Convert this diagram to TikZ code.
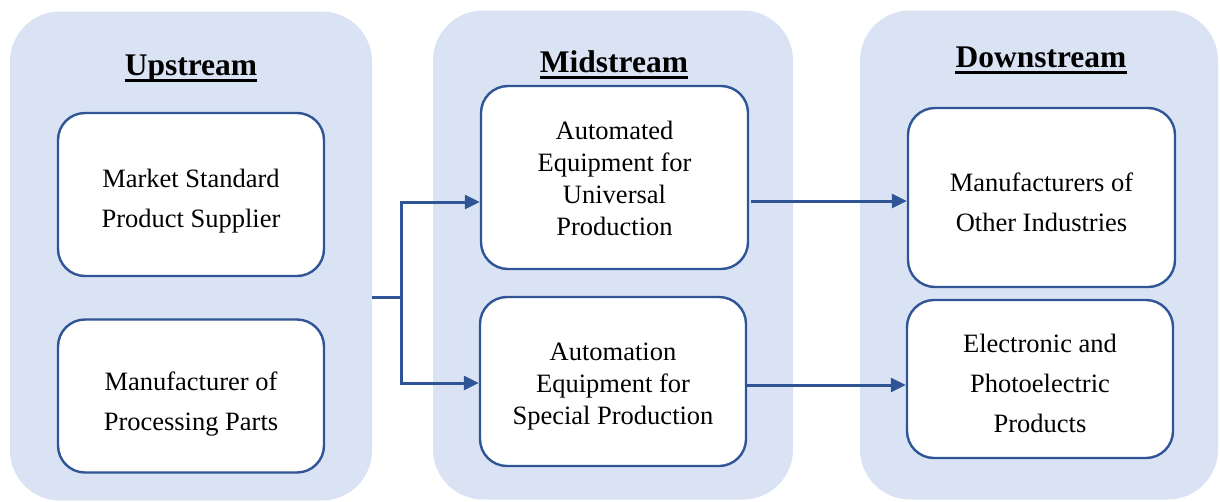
\documentclass[tikz,border=0pt]{standalone}
\usepackage{fontspec}
\setmainfont{Liberation Serif}
\usetikzlibrary{arrows.meta}
\definecolor{panelfill}{HTML}{DAE3F3}
\definecolor{edgeblue}{HTML}{2F5597}
\tikzset{
  panel/.style={fill=panelfill, draw=none, rounded corners=50pt},
  title/.style={font=\fontsize{31.5}{36}\selectfont\bfseries, inner sep=0pt, anchor=base},
  titlerule/.style={draw=black, line width=2.8pt},
  stagebox/.style={draw=edgeblue, line width=2.4pt, fill=white, rounded corners=27pt,
    inner sep=0pt},
  boxtext/.style={align=center, font=\fontsize{26.5}{40}\selectfont, inner sep=0pt},
  tight/.style={font=\fontsize{26.5}{32}\selectfont},
  link/.style={draw=edgeblue, line width=3pt},
  arr/.style={link, -{Triangle[length=15pt,width=14pt]}}
}
\begin{document}
\begin{tikzpicture}[x=1pt,y=-1pt]
\useasboundingbox (0,0) rectangle (1220,501);
% stage panels
\node[panel, minimum width=362pt, minimum height=489pt] (up) at (191,256) {};
\node[panel, minimum width=360pt, minimum height=489pt] (mid) at (613,255) {};
\node[panel, minimum width=358pt, minimum height=489pt] (down) at (1039,255) {};
% titles with their underlines
\node[title] (upt) at (191,75) {Upstream};
\node[title] (midt) at (614,72) {Midstream};
\node[title] (downt) at (1041,67) {Downstream};
\foreach \t in {upt,midt,downt}
  \draw[titlerule] ([yshift=-5.5pt]\t.base west) -- ([yshift=-5.5pt]\t.base east);
% stage boxes
\node[stagebox, minimum width=266pt, minimum height=163pt] (u1) at (191,194.5) {};
\node[stagebox, minimum width=266pt, minimum height=153pt] (u2) at (191,396) {};
\node[stagebox, minimum width=267pt, minimum height=183pt] (m1) at (614.5,177.5) {};
\node[stagebox, minimum width=266pt, minimum height=169pt] (m2) at (613,381.5) {};
\node[stagebox, minimum width=267pt, minimum height=179pt] (d1) at (1041.5,197.5) {};
\node[stagebox, minimum width=266pt, minimum height=158pt] (d2) at (1040,379) {};
% their texts
\node[boxtext] (u1t) at ([yshift=-7pt]u1.center) {Market Standard\\Product Supplier};
\node[boxtext] (u2t) at ([yshift=-8pt]u2.center) {Manufacturer of\\Processing Parts};
\node[boxtext, tight] (m1t) at ([yshift=-1pt]m1.center)
  {Automated\\Equipment for\\Universal\\Production};
\node[boxtext, tight] (m2t) at ([yshift=-5pt]m2.center)
  {Automation\\Equipment for\\Special Production};
\node[boxtext] (d1t) at ([yshift=-5pt]d1.center) {Manufacturers of\\Other Industries};
\node[boxtext] (d2t) at ([yshift=-4pt]d2.center) {Electronic and\\Photoelectric\\Products};
% connectors
\coordinate (j) at (401,297);
\coordinate (a1) at (401,202);
\coordinate (a2) at (401,383);
\draw[link] (up.east |- j) -- (j);
\draw[arr] (j) -- (a1) -- (a1 -| m1.west);
\draw[arr] (j) -- (a2) -- (a2 -| m2.west);
\coordinate (b1) at (751,201);
\coordinate (b2) at (747,385);
\draw[arr] (b1) -- (b1 -| d1.west);
\draw[arr] (b2) -- (b2 -| d2.west);
\end{tikzpicture}
\end{document}
